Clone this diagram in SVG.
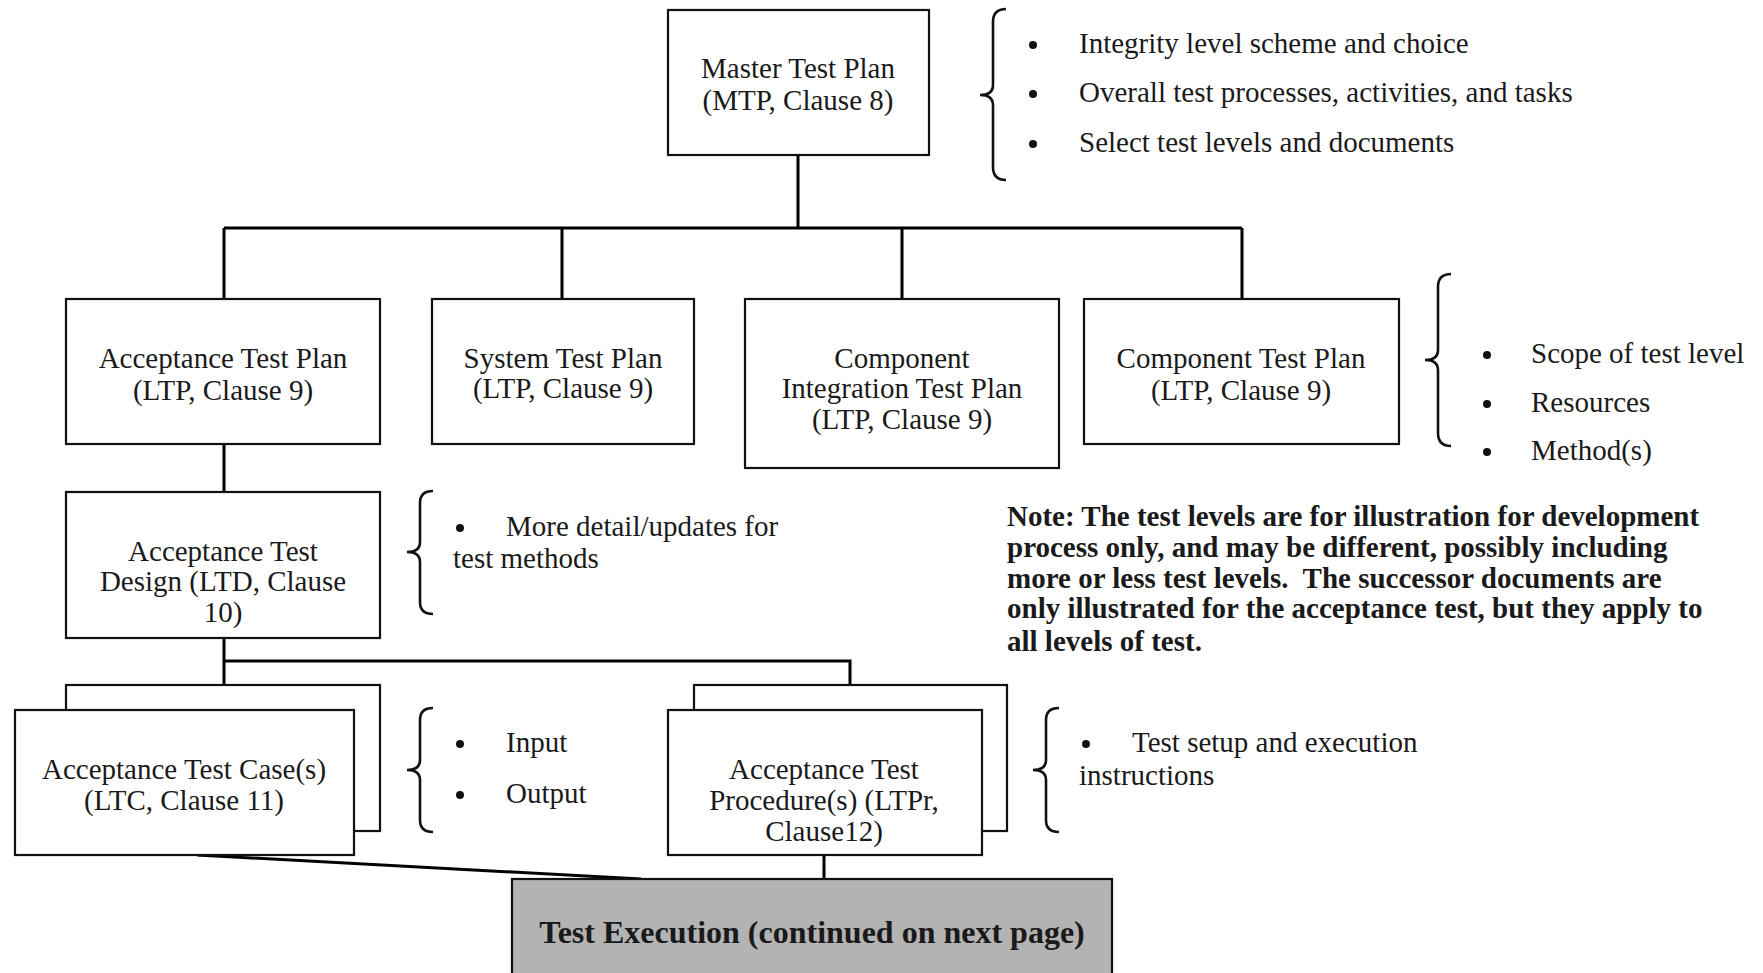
<svg xmlns="http://www.w3.org/2000/svg" width="1763" height="973" viewBox="0 0 1763 973">
<style>
.box{fill:#fff;stroke:#111;stroke-width:2.2}
.t{font-family:"Liberation Serif","Times New Roman",serif;font-size:29px;fill:#1a1a1a}
.c{text-anchor:middle}
.b{font-weight:bold}
.ln{stroke:#000;stroke-width:3;fill:none}
.br{stroke:#111;stroke-width:2.6;fill:none}
.dot{fill:#111}
</style>
<rect width="1763" height="973" fill="#fff"/>
<g id="connectors">
<path class="ln" d="M798 155V228M224 228H1242M224 228V299M562 228V299M902 228V299M1242 228V299"/>
<path class="ln" d="M224 444V492M224 638V685M224 661H850V685"/>
<path class="ln" d="M824 855V879"/>
<path class="ln" d="M197 855L641 879"/>
</g>
<g id="mtp">
<rect class="box" x="668" y="10" width="261" height="145"/>
<text class="t c" x="798" y="78">Master Test Plan</text>
<text class="t c" x="798" y="110">(MTP, Clause 8)</text>
</g>
<g id="mtp-notes">
<path class="br" d="M1006 9Q993 9 993 22L993 85Q993 95 980 95Q993 95 993 105L993 167Q993 180 1006 180"/>
<circle class="dot" cx="1033" cy="45" r="4"/>
<circle class="dot" cx="1033" cy="94" r="4"/>
<circle class="dot" cx="1033" cy="144" r="4"/>
<text class="t" x="1079" y="53">Integrity level scheme and choice</text>
<text class="t" x="1079" y="102">Overall test processes, activities, and tasks</text>
<text class="t" x="1079" y="152">Select test levels and documents</text>
</g>
<g id="atp">
<rect class="box" x="66" y="299" width="314" height="145"/>
<text class="t c" x="223" y="368">Acceptance Test Plan</text>
<text class="t c" x="223" y="400">(LTP, Clause 9)</text>
</g>
<g id="stp">
<rect class="box" x="432" y="299" width="262" height="145"/>
<text class="t c" x="563" y="368">System Test Plan</text>
<text class="t c" x="563" y="398">(LTP, Clause 9)</text>
</g>
<g id="citp">
<rect class="box" x="745" y="299" width="314" height="169"/>
<text class="t c" x="902" y="368">Component</text>
<text class="t c" x="902" y="398">Integration Test Plan</text>
<text class="t c" x="902" y="429">(LTP, Clause 9)</text>
</g>
<g id="ctp">
<rect class="box" x="1084" y="299" width="315" height="145"/>
<text class="t c" x="1241" y="368">Component Test Plan</text>
<text class="t c" x="1241" y="400">(LTP, Clause 9)</text>
</g>
<g id="ltp-notes">
<path class="br" d="M1451 274Q1438 274 1438 287L1438 350Q1438 360 1425 360Q1438 360 1438 370L1438 433Q1438 446 1451 446"/>
<circle class="dot" cx="1487" cy="355" r="4"/>
<circle class="dot" cx="1487" cy="404" r="4"/>
<circle class="dot" cx="1487" cy="452" r="4"/>
<text class="t" x="1531" y="363">Scope of test level</text>
<text class="t" x="1531" y="412">Resources</text>
<text class="t" x="1531" y="460">Method(s)</text>
</g>
<g id="atd">
<rect class="box" x="66" y="492" width="314" height="146"/>
<text class="t c" x="223" y="561">Acceptance Test</text>
<text class="t c" x="223" y="591">Design (LTD, Clause</text>
<text class="t c" x="223" y="622">10)</text>
</g>
<g id="atd-notes">
<path class="br" d="M433 491Q420 491 420 503L420 542Q420 552 407 552Q420 552 420 562L420 602Q420 614 433 614"/>
<circle class="dot" cx="460" cy="528" r="4"/>
<text class="t" x="506" y="536">More detail/updates for</text>
<text class="t" x="453" y="568">test methods</text>
</g>
<g id="ltc">
<rect class="box" x="66" y="685" width="314" height="146"/>
<rect class="box" x="15" y="710" width="339" height="145"/>
<text class="t c" x="184" y="779">Acceptance Test Case(s)</text>
<text class="t c" x="184" y="810">(LTC, Clause 11)</text>
</g>
<g id="ltc-notes">
<path class="br" d="M433 708Q420 708 420 720L420 760Q420 770 407 770Q420 770 420 780L420 820Q420 832 433 832"/>
<circle class="dot" cx="460" cy="744" r="4"/>
<circle class="dot" cx="460" cy="795" r="4"/>
<text class="t" x="506" y="752">Input</text>
<text class="t" x="506" y="803">Output</text>
</g>
<g id="ltpr">
<rect class="box" x="694" y="685" width="313" height="146"/>
<rect class="box" x="668" y="710" width="314" height="145"/>
<text class="t c" x="824" y="779">Acceptance Test</text>
<text class="t c" x="824" y="810">Procedure(s) (LTPr,</text>
<text class="t c" x="824" y="841">Clause12)</text>
</g>
<g id="ltpr-notes">
<path class="br" d="M1059 708Q1046 708 1046 720L1046 760Q1046 770 1033 770Q1046 770 1046 780L1046 820Q1046 832 1059 832"/>
<circle class="dot" cx="1086" cy="744" r="4"/>
<text class="t" x="1132" y="752">Test setup and execution</text>
<text class="t" x="1079" y="785">instructions</text>
</g>
<g id="note">
<text class="t b" x="1007" y="526">Note: The test levels are for illustration for development</text>
<text class="t b" x="1007" y="557">process only, and may be different, possibly including</text>
<text class="t b" x="1007" y="588" style="white-space:pre">more or less test levels.  The successor documents are</text>
<text class="t b" x="1007" y="618">only illustrated for the acceptance test, but they apply to</text>
<text class="t b" x="1007" y="651">all levels of test.</text>
</g>
<g id="test-execution">
<rect x="512" y="879" width="600" height="110" fill="#b3b3b3" stroke="#111" stroke-width="2.2"/>
<text class="t c b" x="812" y="943" style="font-size:32px">Test Execution (continued on next page)</text>
</g>
</svg>
